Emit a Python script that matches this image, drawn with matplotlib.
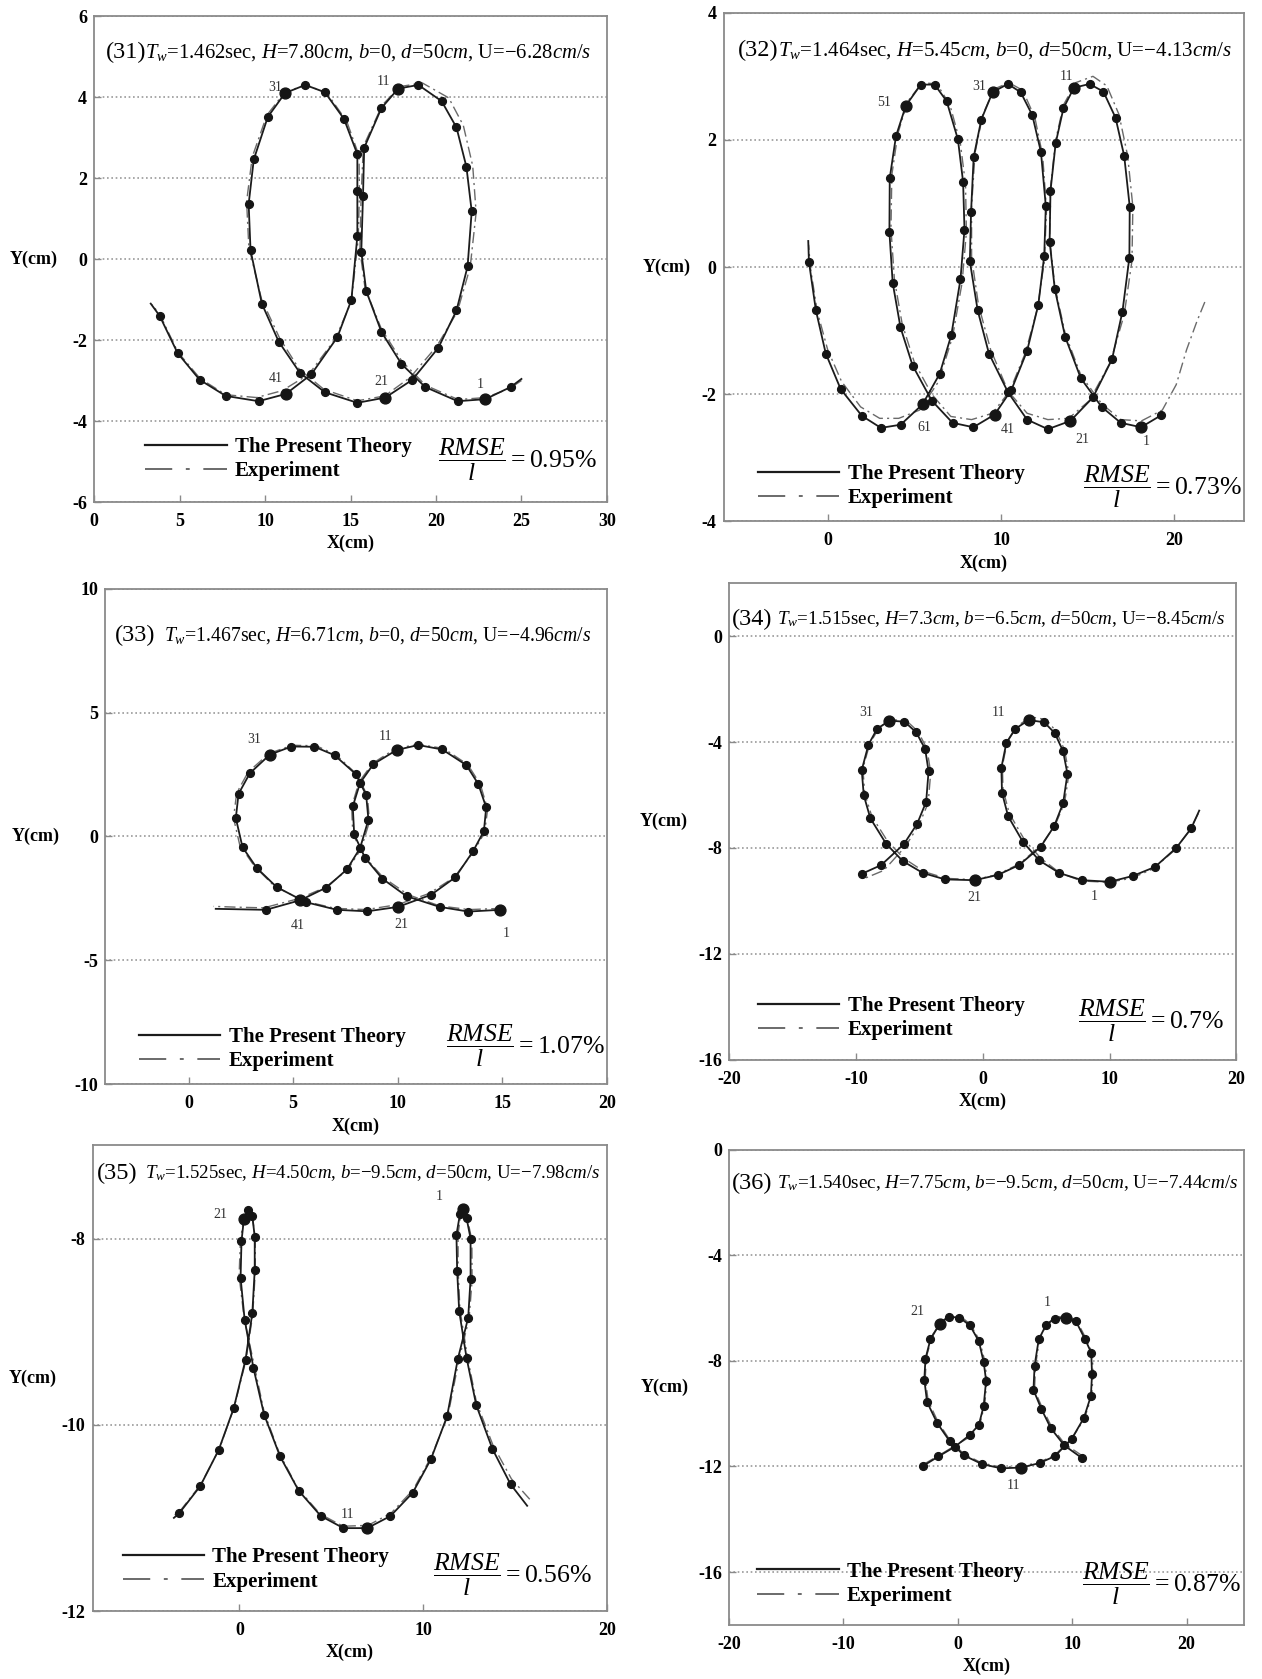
import numpy as np
import matplotlib
matplotlib.use('Agg')
import matplotlib.pyplot as plt
from matplotlib.lines import Line2D

plt.rcParams['font.family'] = ['Liberation Serif', 'DejaVu Serif']
plt.rcParams['mathtext.fontset'] = 'custom'
plt.rcParams['mathtext.rm'] = 'Liberation Serif'
plt.rcParams['mathtext.it'] = 'Liberation Serif:italic'
plt.rcParams['mathtext.bf'] = 'Liberation Serif:bold'
plt.rcParams['axes.unicode_minus'] = False

# ---------------- data (x, y in cm) ----------------
theory31 = [(25.0, -2.96), (24.37, -3.16), (22.89, -3.46), (21.27, -3.51), (19.37, -3.16), (17.98, -2.59),
            (16.81, -1.80), (15.92, -0.79), (15.63, 0.18), (15.73, 1.55), (15.80, 2.75), (16.81, 3.73),
            (17.79, 4.21), (18.97, 4.30), (20.33, 3.90), (21.20, 3.25), (21.78, 2.28), (22.09, 1.18),
            (21.85, -0.18), (21.20, -1.27), (20.14, -2.19), (18.62, -2.98), (17.04, -3.42), (15.40, -3.55),
            (13.50, -3.29), (12.04, -2.81), (10.80, -2.04), (9.81, -1.10), (9.15, 0.22), (9.04, 1.36),
            (9.34, 2.46), (10.16, 3.51), (11.17, 4.10), (12.35, 4.30), (13.50, 4.12), (14.62, 3.46),
            (15.40, 2.59), (15.40, 1.69), (15.40, 0.57), (15.05, -1.01), (14.23, -1.93), (12.70, -2.85),
            (11.22, -3.33), (9.62, -3.51), (7.70, -3.38), (6.17, -2.98), (4.88, -2.32), (3.83, -1.40),
            (3.31, -1.10)]
exper31 = [(25.0, -3.0), (24.3, -3.2), (22.9, -3.42), (21.3, -3.47), (19.4, -3.12), (18.0, -2.52),
           (16.8, -1.72), (15.85, -0.72), (15.55, 0.22), (15.62, 1.55), (15.75, 2.78), (16.85, 3.8),
           (17.9, 4.26), (19.2, 4.35), (20.75, 3.98), (21.6, 3.3), (22.15, 2.3), (22.35, 1.15),
           (22.0, -0.2), (21.25, -1.3), (20.05, -2.15), (18.5, -2.92), (17.0, -3.38), (15.4, -3.5),
           (13.45, -3.22), (12.0, -2.72), (10.85, -1.95), (9.8, -1.0), (9.05, 0.3), (8.92, 1.42),
           (9.25, 2.52), (10.1, 3.55), (11.15, 4.12), (12.4, 4.3), (13.62, 4.1), (14.78, 3.4),
           (15.5, 2.55), (15.52, 1.62), (15.45, 0.5), (15.05, -1.05), (14.1, -1.98), (12.55, -2.85),
           (11.0, -3.25), (9.5, -3.42), (7.7, -3.35), (6.2, -2.95), (4.9, -2.3), (3.9, -1.42), (3.4, -1.12)]

theory32 = [(19.24, -2.33), (18.07, -2.52), (16.9, -2.45), (15.8, -2.2), (14.6, -1.75), (13.7, -1.1),
            (13.1, -0.35), (12.8, 0.4), (12.85, 1.2), (13.15, 1.95), (13.6, 2.5), (14.2, 2.82),
            (15.1, 2.88), (15.9, 2.76), (16.6, 2.35), (17.1, 1.75), (17.42, 0.95), (17.4, 0.15),
            (17.0, -0.7), (16.4, -1.45), (15.3, -2.05), (14.0, -2.42), (12.7, -2.55), (11.5, -2.40),
            (10.4, -1.97), (9.3, -1.36), (8.65, -0.68), (8.2, 0.09), (8.27, 0.87), (8.42, 1.73),
            (8.86, 2.32), (9.51, 2.75), (10.39, 2.88), (11.13, 2.75), (11.80, 2.39), (12.30, 1.81),
            (12.58, 0.96), (12.49, 0.18), (12.15, -0.59), (11.5, -1.32), (10.6, -1.93), (9.63, -2.32),
            (8.4, -2.52), (7.2, -2.45), (6.0, -2.1), (4.9, -1.55), (4.2, -0.95), (3.75, -0.25),
            (3.56, 0.55), (3.58, 1.40), (3.94, 2.06), (4.51, 2.54), (5.37, 2.87), (6.17, 2.87),
            (6.86, 2.61), (7.51, 2.01), (7.81, 1.34), (7.89, 0.59), (7.66, -0.19), (7.13, -1.07),
            (6.46, -1.68), (5.47, -2.16), (4.21, -2.48), (3.07, -2.53), (1.97, -2.34), (0.75, -1.92),
            (-0.11, -1.36), (-0.68, -0.68), (-1.08, 0.08), (-1.12, 0.41)]
exper32 = [(21.75, -0.55), (21.3, -0.85), (20.7, -1.3), (20.1, -1.85), (19.3, -2.25), (18.1, -2.42),
           (16.9, -2.4), (15.8, -2.15), (14.6, -1.7), (13.7, -1.05), (13.1, -0.3), (12.8, 0.45),
           (12.85, 1.25), (13.15, 2.0), (13.6, 2.55), (14.3, 2.9), (15.3, 3.0), (16.1, 2.85),
           (16.8, 2.4), (17.3, 1.75), (17.6, 0.95), (17.55, 0.1), (17.1, -0.75), (16.3, -1.5),
           (15.1, -2.1), (13.9, -2.38), (12.7, -2.4), (11.5, -2.3), (10.4, -1.95), (9.4, -1.3),
           (8.7, -0.6), (8.3, 0.15), (8.3, 0.95), (8.5, 1.8), (8.95, 2.4), (9.6, 2.8), (10.45, 2.9),
           (11.25, 2.78), (11.95, 2.35), (12.4, 1.75), (12.62, 0.9), (12.5, 0.1), (12.1, -0.65),
           (11.4, -1.35), (10.5, -1.95), (9.5, -2.3), (8.3, -2.4), (7.1, -2.35), (6.0, -2.0),
           (5.0, -1.5), (4.3, -0.9), (3.85, -0.2), (3.65, 0.6), (3.7, 1.45), (4.05, 2.1), (4.6, 2.6),
           (5.45, 2.9), (6.3, 2.88), (7.05, 2.55), (7.65, 1.95), (7.95, 1.3), (8.0, 0.55),
           (7.75, -0.25), (7.2, -1.1), (6.4, -1.8), (5.3, -2.25), (4.1, -2.38), (3.0, -2.38),
           (1.9, -2.2), (0.8, -1.8), (0.0, -1.3), (-0.6, -0.7), (-1.0, 0.0), (-1.1, 0.35)]

theory33 = [(14.9, -2.96), (13.37, -3.03), (12.0, -2.84), (10.42, -2.41), (9.26, -1.70), (8.44, -0.86),
            (7.92, 0.08), (7.85, 1.21), (8.2, 2.16), (8.84, 2.92), (9.95, 3.49), (10.98, 3.69),
            (12.13, 3.51), (13.28, 2.88), (13.85, 2.12), (14.23, 1.17), (14.12, 0.22), (13.6, -0.6),
            (12.75, -1.65), (11.6, -2.35), (10.02, -2.84), (8.54, -3.02), (7.1, -2.96), (5.6, -2.65),
            (4.21, -2.04), (3.26, -1.27), (2.58, -0.43), (2.26, 0.74), (2.39, 1.72), (2.93, 2.55),
            (3.88, 3.30), (4.92, 3.63), (6.02, 3.62), (6.98, 3.28), (7.99, 2.52), (8.49, 1.68),
            (8.6, 0.68), (8.2, -0.47), (7.57, -1.33), (6.59, -2.06), (5.35, -2.57), (3.7, -2.96),
            (1.3, -2.92)]
exper33 = [(15.0, -2.9), (13.4, -2.95), (12.0, -2.8), (10.5, -2.35), (9.3, -1.65), (8.4, -0.8),
           (7.85, 0.1), (7.8, 1.2), (8.15, 2.2), (8.8, 2.95), (9.9, 3.55), (11.0, 3.72), (12.2, 3.55),
           (13.35, 2.9), (13.95, 2.1), (14.3, 1.1), (14.15, 0.15), (13.6, -0.65), (12.7, -1.65),
           (11.5, -2.3), (10.0, -2.75), (8.5, -2.95), (7.0, -2.9), (5.5, -2.6), (4.1, -2.0),
           (3.15, -1.2), (2.45, -0.35), (2.15, 0.75), (2.3, 1.75), (2.85, 2.6), (3.85, 3.35),
           (4.95, 3.68), (6.1, 3.66), (7.05, 3.3), (8.05, 2.5), (8.55, 1.65), (8.65, 0.6),
           (8.25, -0.5), (7.6, -1.35), (6.55, -2.05), (5.3, -2.5), (3.6, -2.88), (2.2, -2.85),
           (1.2, -2.82)]

theory34 = [(17.07, -6.59), (16.44, -7.26), (15.26, -8.0), (13.58, -8.72), (11.83, -9.06), (10.02, -9.28),
            (7.85, -9.22), (6.04, -8.95), (4.45, -8.47), (3.18, -7.78), (2.0, -6.80), (1.52, -5.91),
            (1.47, -4.97), (1.86, -4.04), (2.57, -3.50), (3.62, -3.17), (4.84, -3.25), (5.68, -3.66),
            (6.34, -4.35), (6.68, -5.2), (6.34, -6.31), (5.63, -7.18), (4.57, -7.96), (2.86, -8.65),
            (1.2, -9.02), (-0.64, -9.22), (-2.96, -9.19), (-4.71, -8.95), (-6.3, -8.5), (-7.62, -7.84),
            (-8.86, -6.88), (-9.38, -6.01), (-9.54, -5.06), (-9.01, -4.10), (-8.33, -3.50),
            (-7.36, -3.19), (-6.17, -3.23), (-5.25, -3.63), (-4.54, -4.26), (-4.27, -5.10),
            (-4.46, -6.26), (-5.17, -7.09), (-6.22, -7.86), (-8.01, -8.65), (-9.54, -8.98)]
exper34 = [(17.0, -6.7), (16.3, -7.35), (15.1, -8.1), (13.4, -8.8), (11.7, -9.15), (9.9, -9.3),
           (7.8, -9.25), (6.1, -8.95), (4.6, -8.4), (3.3, -7.7), (2.1, -6.7), (1.6, -5.8), (1.55, -4.9),
           (1.95, -3.95), (2.7, -3.4), (3.8, -3.05), (5.0, -3.15), (5.8, -3.6), (6.45, -4.3),
           (6.8, -5.2), (6.45, -6.3), (5.7, -7.15), (4.6, -7.9), (2.9, -8.6), (1.2, -9.0),
           (-0.6, -9.2), (-2.9, -9.15), (-4.6, -8.9), (-6.2, -8.4), (-7.5, -7.75), (-8.75, -6.8),
           (-9.3, -5.95), (-9.45, -5.0), (-8.9, -4.05), (-8.15, -3.45), (-7.2, -3.15), (-6.0, -3.2),
           (-5.1, -3.6), (-4.4, -4.25), (-4.1, -5.15), (-4.3, -6.3), (-5.0, -7.1), (-6.1, -7.95),
           (-7.8, -8.85), (-9.3, -9.15)]

theory35 = [(15.66, -10.87), (14.76, -10.64), (13.77, -10.26), (12.89, -9.79), (12.36, -9.28),
            (11.96, -8.78), (11.85, -8.35), (11.81, -7.96), (12.0, -7.74), (12.18, -7.68), (12.36, -7.78),
            (12.58, -8.0), (12.58, -8.43), (12.45, -8.85), (11.89, -9.29), (11.3, -9.91), (10.42, -10.37),
            (9.43, -10.73), (8.22, -10.98), (6.96, -11.11), (5.66, -11.11), (4.43, -10.98), (3.23, -10.71),
            (2.21, -10.34), (1.34, -9.89), (0.76, -9.39), (0.28, -8.87), (0.06, -8.42), (0.11, -8.03),
            (0.24, -7.79), (0.46, -7.69), (0.70, -7.76), (0.83, -7.98), (0.83, -8.34), (0.70, -8.80),
            (0.33, -9.30), (-0.31, -9.82), (-1.13, -10.27), (-2.14, -10.66), (-3.28, -10.95),
            (-3.57, -11.0)]
exper35 = [(15.8, -10.8), (14.8, -10.58), (13.8, -10.22), (12.9, -9.76), (12.4, -9.26), (12.0, -8.76),
           (11.9, -8.33), (11.9, -7.95), (12.05, -7.74), (12.22, -7.7), (12.42, -7.8), (12.65, -8.02),
           (12.66, -8.45), (12.5, -8.86), (11.95, -9.3), (11.35, -9.9), (10.45, -10.34), (9.45, -10.7),
           (8.25, -10.95), (7.0, -11.08), (5.65, -11.09), (4.4, -10.96), (3.2, -10.69), (2.2, -10.32),
           (1.35, -9.87), (0.8, -9.36), (0.25, -8.85), (-0.02, -8.4), (0.05, -8.02), (0.22, -7.8),
           (0.45, -7.71), (0.72, -7.79), (0.86, -8.0), (0.86, -8.36), (0.72, -8.82), (0.35, -9.31),
           (-0.3, -9.82), (-1.1, -10.26), (-2.1, -10.64), (-3.25, -10.93), (-3.6, -10.98)]

theory36 = [(10.85, -11.68), (9.3, -11.2), (8.13, -10.55), (7.31, -9.83), (6.61, -9.10), (6.71, -8.18),
            (7.07, -7.19), (7.7, -6.65), (8.45, -6.40), (9.43, -6.36), (10.32, -6.50), (11.13, -7.19),
            (11.66, -7.69), (11.73, -8.51), (11.63, -9.33), (11.02, -10.16), (9.96, -10.95), (8.48, -11.61),
            (7.14, -11.87), (5.55, -12.04), (3.78, -12.07), (2.12, -11.91), (0.53, -11.58), (-0.7, -11.05),
            (-1.80, -10.36), (-2.69, -9.56), (-2.93, -8.71), (-2.83, -7.92), (-2.40, -7.19), (-1.59, -6.60),
            (-0.81, -6.33), (0.14, -6.36), (1.06, -6.66), (1.84, -7.26), (2.26, -8.05), (2.47, -8.75),
            (2.26, -9.70), (1.84, -10.42), (1.06, -10.8), (-0.25, -11.25), (-1.7, -11.62), (-3.04, -11.98)]
exper36 = [(10.9, -11.6), (9.35, -11.15), (8.2, -10.5), (7.4, -9.8), (6.7, -9.1), (6.8, -8.15),
           (7.15, -7.15), (7.75, -6.62), (8.5, -6.35), (9.45, -6.3), (10.35, -6.45), (11.2, -7.15),
           (11.75, -7.7), (11.82, -8.5), (11.7, -9.35), (11.05, -10.2), (9.95, -10.95), (8.45, -11.58),
           (7.1, -11.84), (5.5, -12.0), (3.75, -12.02), (2.1, -11.87), (0.5, -11.52), (-0.7, -11.0),
           (-1.75, -10.3), (-2.6, -9.5), (-2.85, -8.65), (-2.75, -7.85), (-2.2, -7.0), (-1.4, -6.5),
           (-0.75, -6.28), (0.2, -6.3), (1.1, -6.62), (1.9, -7.22), (2.35, -8.0), (2.55, -8.72),
           (2.35, -9.65), (1.95, -10.35), (1.15, -10.85), (-0.2, -11.2), (-1.65, -11.58), (-3.0, -11.92)]

# time-step labels written next to the trajectories
steps31 = [('31', 10.6, 4.23), ('11', 16.9, 4.39), ('41', 10.6, -2.94), ('21', 16.8, -3.03), ('1', 22.6, -3.11)]
steps32 = [('51', 3.25, 2.59), ('31', 8.75, 2.84), ('11', 13.78, 2.99), ('61', 5.55, -2.53),
           ('41', 10.4, -2.55), ('21', 14.7, -2.72), ('1', 18.35, -2.75)]
steps33 = [('31', 3.12, 3.93), ('11', 9.4, 4.04), ('41', 5.23, -3.59), ('21', 10.17, -3.56), ('1', 15.2, -3.92)]
steps34 = [('31', -9.16, -2.87), ('11', 1.27, -2.87), ('21', -0.64, -9.89), ('1', 8.8, -9.82)]
steps35 = [('21', -1.04, -7.74), ('1', 10.86, -7.55), ('11', 5.86, -10.96)]
steps36 = [('21', -3.57, -6.13), ('1', 7.84, -5.78), ('11', 4.84, -12.73)]

case_numbers = ['(31)', '(32)', '(33)', '(34)', '(35)', '(36)']
case_info = [r'$T_w$=1.462sec, $H$=7.80$cm$, $b$=0, $d$=50$cm$, U=$-$6.28$cm/s$',
             r'$T_w$=1.464sec, $H$=5.45$cm$, $b$=0, $d$=50$cm$, U=$-$4.13$cm/s$',
             r'$T_w$=1.467sec, $H$=6.71$cm$, $b$=0, $d$=50$cm$, U=$-$4.96$cm/s$',
             r'$T_w$=1.515sec, $H$=7.3$cm$, $b$=$-$6.5$cm$, $d$=50$cm$, U=$-$8.45$cm/s$',
             r'$T_w$=1.525sec, $H$=4.50$cm$, $b$=$-$9.5$cm$, $d$=50$cm$, U=$-$7.98$cm/s$',
             r'$T_w$=1.540sec, $H$=7.75$cm$, $b$=$-$9.5$cm$, $d$=50$cm$, U=$-$7.44$cm/s$']
rmse_pct = ['0.95', '0.73', '1.07', '0.7', '0.56', '0.87']

xticks_all = [[0, 5, 10, 15, 20, 25, 30], [0, 10, 20], [0, 5, 10, 15, 20],
              [-20, -10, 0, 10, 20], [0, 10, 20], [-20, -10, 0, 10, 20]]
yticks_all = [[-6, -4, -2, 0, 2, 4, 6], [-4, -2, 0, 2, 4], [-10, -5, 0, 5, 10],
              [-16, -12, -8, -4, 0], [-12, -10, -8], [-16, -12, -8, -4, 0]]

# ---------------- layout ----------------
W, H = 1262, 1679
fig = plt.figure(figsize=(W / 100, H / 100), dpi=100)

layout = [
    dict(rect=(0.0746, 0.7010, 0.4063, 0.2894), xlim=(0, 30), ylim=(-6, 6), mk=(1, -1), big=[2, 12, 22, 32, 42],
         ylx=-0.117, ty=0.930, nx=0.022, ix=0.100, ie=0.969, leg=(0.100, 0.088), rm=(0.671, 0.086)),
    dict(rect=(0.5734, 0.6895, 0.4122, 0.3029), xlim=(-6, 24), ylim=(-4, 4), mk=(0, -1), big=[1, 11, 21, 31, 41, 51, 61],
         ylx=-0.109, ty=0.931, nx=0.027, ix=0.105, ie=0.980, leg=(0.066, 0.0695), rm=(0.690, 0.068)),
    dict(rect=(0.0831, 0.3542, 0.3978, 0.2952), xlim=(-4, 20), ylim=(-10, 10), mk=(0, -1), big=[0, 10, 20, 30, 40],
         ylx=-0.138, ty=0.910, nx=0.020, ix=0.117, ie=0.968, leg=(0.068, 0.071), rm=(0.680, 0.077)),
    dict(rect=(0.5777, 0.3689, 0.4020, 0.2837), xlim=(-20, 20), ylim=(-16, 2), mk=(1, None), big=[5, 15, 25, 35],
         ylx=-0.128, ty=0.929, nx=0.006, ix=0.095, ie=0.980, leg=(0.057, 0.0865), rm=(0.688, 0.081)),
    dict(rect=(0.0733, 0.0405, 0.4076, 0.2773), xlim=(-8, 20), ylim=(-12, -7), mk=(1, -1), big=[9, 19, 29],
         ylx=-0.117, ty=0.945, nx=0.008, ix=0.102, ie=0.984, leg=(0.059, 0.089), rm=(0.661, 0.077)),
    dict(rect=(0.5777, 0.0322, 0.4079, 0.2831), xlim=(-20, 25), ylim=(-18, 0), mk=(0, None), big=[9, 19, 29],
         ylx=-0.126, ty=0.935, nx=0.006, ix=0.094, ie=0.987, leg=(0.055, 0.0865), rm=(0.686, 0.086)),
]
series = [(theory31, exper31, steps31), (theory32, exper32, steps32), (theory33, exper33, steps33),
          (theory34, exper34, steps34), (theory35, exper35, steps35), (theory36, exper36, steps36)]

frame_c = '#8a8a8a'
info_texts = []
for i, (lay, (th, ex, steps)) in enumerate(zip(layout, series)):
    ax = fig.add_axes(lay['rect'])
    tx, ty = np.array(th).T
    exx, exy = np.array(ex).T
    ax.plot(exx, exy, color='#6a6a6a', lw=1.0, ls=(0, (8, 3, 1.5, 3)), zorder=2)
    ax.plot(tx, ty, color='#1c1c1c', lw=1.3, zorder=3)
    a, b = lay['mk']
    ax.plot(tx[a:b], ty[a:b], 'o', ms=5.6, color='#151515', mec='#151515', zorder=4)
    ax.plot(tx[lay['big']], ty[lay['big']], 'o', ms=7.8, color='#151515', zorder=4)
    for s, x, y in steps:
        ax.text(x, y, s, fontsize=10, ha='center', va='center', color='#333333')

    ax.set_xlim(*lay['xlim'])
    ax.set_ylim(*lay['ylim'])
    ax.set_xticks(xticks_all[i])
    ax.set_yticks(yticks_all[i])
    ax.grid(axis='y', ls=(0, (1, 1.6)), color='#9a9a9a', lw=1.2)
    ax.set_axisbelow(True)
    for sp in ax.spines.values():
        sp.set_color(frame_c)
        sp.set_linewidth(1.3)
    ax.tick_params(axis='both', direction='in', length=5, width=1, color=frame_c, labelsize=13)
    ax.tick_params(axis='x', pad=8)
    ax.tick_params(axis='y', pad=5)
    for lab in ax.get_xticklabels() + ax.get_yticklabels():
        lab.set_fontweight('bold')

    hpx = lay['rect'][3] * H
    ax.set_xlabel('X(cm)', fontsize=13, fontweight='bold')
    ax.xaxis.set_label_coords(0.5, -33 / hpx)
    ax.set_ylabel('Y(cm)', fontsize=13, fontweight='bold', rotation=0, ha='center', va='center')
    ax.yaxis.set_label_coords(lay['ylx'], 0.5)

    ax.text(lay['nx'], lay['ty'], case_numbers[i], transform=ax.transAxes, fontsize=17.5,
            ha='left', va='center_baseline')
    t = ax.text(lay['ix'], lay['ty'], case_info[i], transform=ax.transAxes, fontsize=12,
                ha='left', va='center_baseline')
    info_texts.append((t, (lay['ie'] - lay['ix']) * lay['rect'][2] * W))

    handles = [Line2D([], [], color='#1c1c1c', lw=1.6),
               Line2D([], [], color='#6a6a6a', lw=1.4, ls=(0, (14, 7, 2, 7)))]
    ax.legend(handles, ['The Present Theory', 'Experiment'], loc='center left',
              bbox_to_anchor=lay['leg'], frameon=False, handlelength=3.9, handletextpad=0.4,
              labelspacing=0.2, borderpad=0, borderaxespad=0,
              prop=dict(family=['Liberation Serif', 'DejaVu Serif'], weight='bold', size=15))
    ax.text(lay['rm'][0], lay['rm'][1], r'$\dfrac{RMSE}{l}=' + rmse_pct[i] + r'\%$',
            transform=ax.transAxes, fontsize=18.5, ha='left', va='center')

# scale the parameter lines so they span the same width as in the original
fig.canvas.draw()
renderer = fig.canvas.get_renderer()
for t, target in info_texts:
    w = t.get_window_extent(renderer).width
    t.set_fontsize(t.get_fontsize() * target / w)

fig.savefig('out.png', dpi=100, facecolor='white')
